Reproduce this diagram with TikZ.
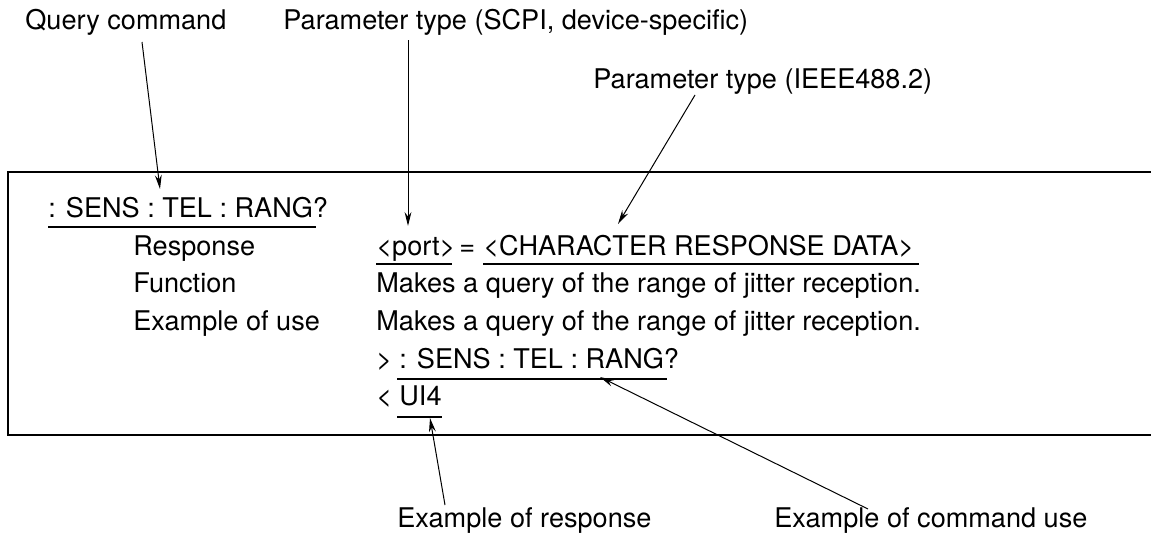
\documentclass[tikz,border=0pt]{standalone}
\usepackage{fontspec}
\setmainfont{TeX Gyre Heros}
\usetikzlibrary{arrows.meta}
\begin{document}
\begin{tikzpicture}[x=0.5pt,y=-0.5pt,
  lbl/.style={anchor=base west,inner sep=0pt,font=\fontsize{13.55}{16}\selectfont},
  arr/.style={line width=0.5pt,-{Stealth[length=7pt,width=3.4pt]}},
  framebox/.style={line width=0.7pt},
  uline/.style={line width=0.6pt}]
\useasboundingbox (0,0) rectangle (1151,547);
% frame (open to the right)
\draw[framebox] (1151,172) -- (8,172) -- (8,435) -- (1151,435);
% top labels
\node[lbl] (qc) at (25,29) {Query command};
\node[lbl] (scpi) at (283,29) {Parameter type (SCPI, device-specific)};
\node[lbl] (ieee) at (593,88) {Parameter type (IEEE488.2)};
% content
\node[lbl] (cmd) at (48,217) {: SENS : TEL : RANG?};
\node[lbl] (resp) at (133,255) {Response};
\node[lbl] (func) at (133,292) {Function};
\node[lbl] (ex) at (133,330) {Example of use};
\node[lbl] (port) at (376,255) {<port>};
\node[lbl] (eq) at (459,255) {=};
\node[lbl] (crd) at (483,255) {<CHARACTER RESPONSE DATA>};
\node[lbl] (fn) at (376,292) {Makes a query of the range of jitter reception.};
\node[lbl] (exu) at (376,330) {Makes a query of the range of jitter reception.};
\node[lbl] (gt) at (376,368) {>};
\node[lbl] (cmd2) at (399,368) {: SENS : TEL : RANG?};
\node[lbl] (lt) at (376,405) {<};
\node[lbl] (ui) at (399,405) {UI4};
% underlines
\draw[uline] ([yshift=-5pt]cmd.base west) -- ([xshift=-6pt,yshift=-5pt]cmd.base east);
\draw[uline] ([yshift=-4.5pt]port.base west) -- ([xshift=-2pt,yshift=-4.5pt]port.base east);
\draw[uline] ([yshift=-4.5pt]crd.base west) -- ([xshift=2pt,yshift=-4.5pt]crd.base east);
\draw[uline] ([xshift=-1pt,yshift=-5.5pt]cmd2.base west) -- ([xshift=-6pt,yshift=-5.5pt]cmd2.base east);
\draw[uline] ([xshift=-1pt,yshift=-6pt]ui.base west) -- ([yshift=-6pt]ui.base east);
% bottom labels
\node[lbl] (exr) at (397,527) {Example of response};
\node[lbl] (exc) at (774,527) {Example of command use};
% arrow end points
\coordinate (qs) at (142,42);  \coordinate (qt) at (160,189);
\coordinate (ss) at (408,40);  \coordinate (st) at (408,226);
\coordinate (is) at (695,95);  \coordinate (it) at (618,224);
\coordinate (rs) at (445,505); \coordinate (rt) at (430,418);
\coordinate (cs) at (868,509); \coordinate (ct) at (600,377);
\draw[arr] (qs) -- (qt);
\draw[arr] (ss) -- (st);
\draw[arr] (is) -- (it);
\draw[arr] (rs) -- (rt);
\draw[arr] (cs) -- (ct);
\end{tikzpicture}
\end{document}
